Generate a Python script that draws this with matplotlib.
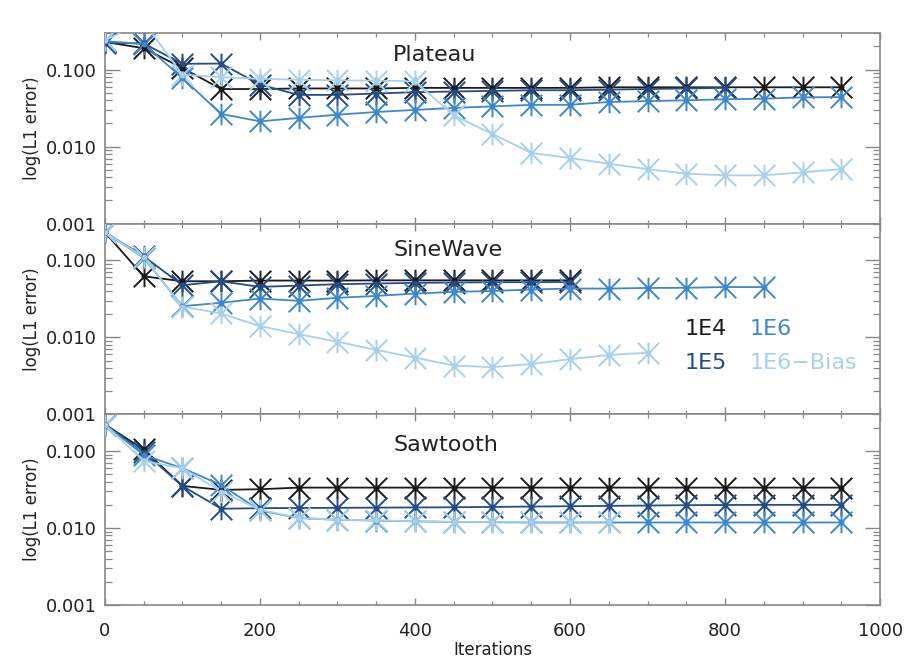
import numpy as np
import matplotlib
matplotlib.use('Agg')
from matplotlib import pyplot as plt
from matplotlib.path import Path
from matplotlib.ticker import FixedLocator, NullFormatter, LogLocator, MultipleLocator

# Iteration values of the samples:
iters = [0, 50, 100, 150, 200, 250, 300, 350, 400, 450,
         500, 550, 600, 650, 700, 750, 800, 850, 900, 950]

# Series names and colors:
names = ['1E4', '1E5', '1E6', '1E6\u2212Bias']
colors = ['#1a1a1a', '#264b87', '#3f87cc', '#a8d0ea']
panel_titles = ['Plateau', 'SineWave', 'Sawtooth']

# Plateau:
plat_1e4 = [0.229, 0.190, 0.105, 0.056, 0.056, 0.057, 0.057, 0.057, 0.058, 0.058,
            0.058, 0.058, 0.058, 0.059, 0.059, 0.059, 0.059, 0.059, 0.059, 0.059]
plat_1e5 = [0.224, 0.219, 0.119, 0.120, 0.064, 0.047, 0.047, 0.049, 0.051, 0.052,
            0.053, 0.054, 0.054, 0.055, 0.056, 0.057, 0.058]
plat_1e6 = [0.235, 0.215, 0.078, 0.0266, 0.0213, 0.0236, 0.026, 0.0282, 0.030, 0.0318,
            0.0334, 0.0348, 0.035, 0.038, 0.039, 0.040, 0.0412, 0.042, 0.0437, 0.044]
plat_bias = [0.240, 0.420, 0.086, 0.080, 0.076, 0.074, 0.0727, 0.072, 0.0705, 0.0255,
             0.0146, 0.0083, 0.0071, 0.0060, 0.0051, 0.00446, 0.00424, 0.00424, 0.00464, 0.0051]

# SineWave:
sine_1e4 = [0.232, 0.062, 0.0535, 0.0535, 0.0546, 0.0546, 0.0546, 0.055, 0.055, 0.055,
            0.055, 0.055, 0.055]
sine_1e5 = [0.232, 0.113, 0.0475, 0.0535, 0.0452, 0.047, 0.049, 0.050, 0.051, 0.0515,
            0.052, 0.052, 0.0524]
sine_1e6 = [0.232, 0.108, 0.0254, 0.0281, 0.0319, 0.0298, 0.0326, 0.0345, 0.037, 0.0389,
            0.040, 0.0418, 0.043, 0.043, 0.0438, 0.044, 0.045, 0.045]
sine_bias = [0.232, 0.110, 0.025, 0.0204, 0.014, 0.011, 0.00877, 0.00685, 0.00545, 0.0043,
             0.0041, 0.0045, 0.0052, 0.0059, 0.0063]

# Sawtooth:
saw_1e4 = [0.221, 0.105, 0.0352, 0.0313, 0.0319, 0.0335, 0.0335, 0.0335, 0.0335, 0.0335,
           0.0335, 0.0335, 0.0335, 0.0335, 0.0335, 0.0335, 0.0335, 0.0335, 0.0335, 0.0335]
saw_1e5 = [0.221, 0.098, 0.0352, 0.0178, 0.0181, 0.0182, 0.0183, 0.0184, 0.0185, 0.0186,
           0.0188, 0.019, 0.0192, 0.0194, 0.0196, 0.0198, 0.0199, 0.020, 0.020, 0.020]
saw_1e6 = [0.221, 0.089, 0.0598, 0.0363, 0.0169, 0.0135, 0.0128, 0.0125, 0.0122, 0.012,
           0.0119, 0.0118, 0.0118, 0.0118, 0.0118, 0.0118, 0.0118, 0.0118, 0.0118, 0.0118]
saw_bias = [0.221, 0.0743, 0.0598, 0.0298, 0.0173, 0.0135, 0.0128, 0.0126, 0.0122, 0.0120,
            0.0120, 0.0120, 0.0120, 0.0120]

panels = [[plat_1e4, plat_1e5, plat_1e6, plat_bias],
          [sine_1e4, sine_1e5, sine_1e6, sine_bias],
          [saw_1e4, saw_1e5, saw_1e6, saw_bias]]

# IDL-like asterisk marker (X plus vertical bar):
star = Path([(-1, -1), (1, 1), (-1, 1), (1, -1), (0, -1), (0, 1)],
            [Path.MOVETO, Path.LINETO, Path.MOVETO, Path.LINETO, Path.MOVETO, Path.LINETO])

plt.rcParams['font.family'] = ['DejaVu Sans']
fig, axes = plt.subplots(nrows=3, ncols=1, sharex=True)
fig.set_size_inches(9.12, 6.72)
fig.subplots_adjust(left=0.115, right=0.965, top=0.951, bottom=0.0997, hspace=0)

title_y = [0.855, 0.832, 0.808]
for k, ax in enumerate(axes):
    for series, col in zip(panels[k], colors):
        xs = iters[:len(series)]
        ax.plot(xs, series, color=col, lw=1.3, marker=star, markersize=15.5,
                markeredgewidth=1.4, markeredgecolor=col, zorder=3)
        ax.plot(xs, series, ls='none', marker='o', markersize=3.2, color=col, zorder=4)
    ax.set_yscale('log')
    ax.set_ylim(0.001, 0.3)
    ax.set_xlim(0, 1000)
    ## Ticks:
    ax.yaxis.set_major_locator(FixedLocator([0.001, 0.01, 0.1]))
    ax.set_yticklabels(['0.001', '0.010', '0.100'])
    ax.yaxis.set_minor_locator(LogLocator(base=10, subs=np.arange(2, 10)))
    ax.yaxis.set_minor_formatter(NullFormatter())
    ax.xaxis.set_major_locator(MultipleLocator(200))
    ax.xaxis.set_minor_locator(MultipleLocator(50))
    ax.tick_params(axis='y', which='major', direction='in', length=11, width=1, color='#888888',
                   left=True, right=True, labelsize=13, labelcolor='#222222', pad=6)
    ax.tick_params(axis='y', which='minor', direction='in', length=5, width=0.9, color='#888888',
                   left=True, right=True)
    ax.tick_params(axis='x', which='major', direction='in', length=5, width=1, color='#888888',
                   top=True, bottom=True, labelsize=13, labelcolor='#222222', pad=12)
    ax.tick_params(axis='x', which='minor', direction='in', length=3, width=0.9, color='#888888',
                   top=True, bottom=True)
    for sp in ax.spines.values():
        sp.set_color('#888888')
        sp.set_linewidth(1.2)
    ax.set_ylabel('log(L1 error)', fontsize=12, color='#222222')
    ax.yaxis.set_label_coords(-0.082, 0.5)
    ## Panel title:
    ax.text(0.372, title_y[k], panel_titles[k], transform=ax.transAxes, fontsize=16,
            color='#222222', ha='left', va='baseline')

# Legend as colored text in the middle panel:
leg_pos = [(0.748, 0.416), (0.748, 0.237), (0.832, 0.416), (0.832, 0.237)]
for name, col, (lx, ly) in zip(names, colors, leg_pos):
    axes[1].text(lx, ly, name, transform=axes[1].transAxes, fontsize=16, color=col,
                 ha='left', va='baseline')

axes[2].set_xlabel('Iterations', fontsize=12, color='#222222', labelpad=1)

plt.savefig('out.png', dpi=100)
plt.close(fig)
